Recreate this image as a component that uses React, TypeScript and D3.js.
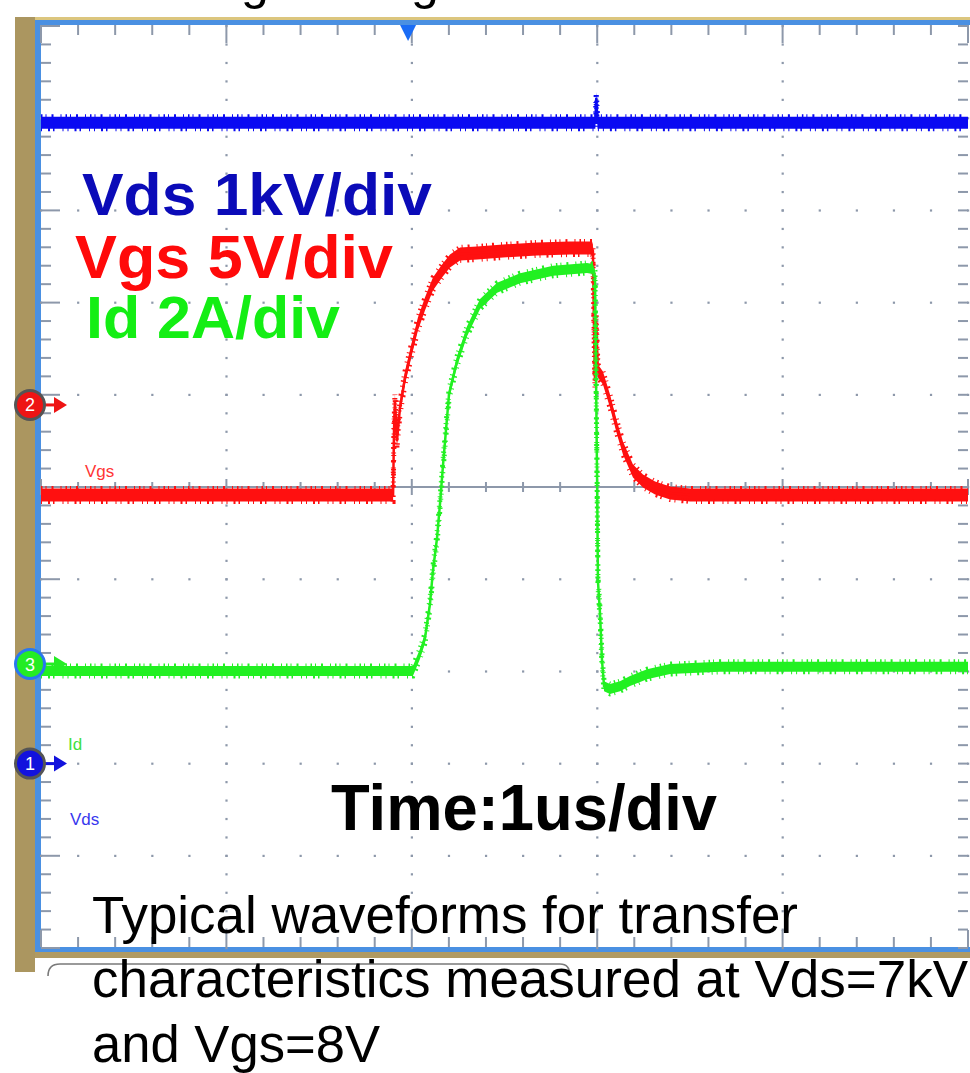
import * as d3 from "d3";

// scope screen: 5 time divisions across, 10 vertical divisions
const timeDomain = [0, 5]; // us, 1 us/div
const divDomain = [-5, 5];

// channel settings: zero position (div) and units per div
const vdsOffset = -3.0, vdsPerDiv = 1; // kV
const vgsOffset = 0.89, vgsPerDiv = 5; // V
const idOffset = -1.92, idPerDiv = 2; // A
const triggerTime = 1.98;

// traces: [time us, value]
const vdsTrace: [number, number][] = [
  [0, 6.95], [2.99, 6.95], [2.995, 7.22], [3.002, 6.95], [5, 6.95],
];

const vgsTrace: [number, number][] = [
  [0, -4.88], [1.899, -4.88], [1.904, -1.41], [1.909, 0.21], [1.92, -1.96],
  [1.936, -0.17], [1.963, 1.46], [2.001, 3.09], [2.033, 4.39], [2.071, 5.47],
  [2.114, 6.56], [2.163, 7.26], [2.206, 7.81], [2.26, 8.19], [2.352, 8.24],
  [2.492, 8.35], [2.675, 8.46], [2.853, 8.51], [2.972, 8.51], [2.977, 8.35],
  [2.983, 4.01], [2.988, 1.3], [2.994, 4.55], [3.004, 1.84], [3.031, 1.46],
  [3.069, 0.21], [3.107, -1.25], [3.139, -2.34], [3.193, -3.58], [3.247, -4.12],
  [3.312, -4.5], [3.393, -4.78], [3.501, -4.88], [5, -4.88],
];

const idTrace: [number, number][] = [
  [0, -0.15], [2.006, -0.15], [2.044, 0.22], [2.071, 0.56], [2.098, 1.3],
  [2.114, 2.02], [2.136, 2.73], [2.152, 3.47], [2.168, 4.3], [2.201, 5.86],
  [2.244, 6.57], [2.298, 7.22], [2.368, 7.81], [2.46, 8.16], [2.584, 8.37],
  [2.762, 8.53], [2.945, 8.59], [2.977, 8.57], [2.988, 8.42], [2.999, 4.19],
  [3.004, 1.8], [3.015, 1.11], [3.026, 0.07], [3.037, -0.48], [3.069, -0.54],
  [3.123, -0.48], [3.177, -0.37], [3.269, -0.22], [3.393, -0.11], [3.662, -0.06],
  [5, -0.06],
];

const scaleLabels = ["Vds 1kV/div", "Vgs 5V/div", "Id 2A/div"];
const timeLabel = "Time:1us/div";
const captionLines = [
  "Typical waveforms for transfer",
  "characteristics measured at Vds=7kV",
  "and Vgs=8V",
];

const FONT = "'Liberation Sans', Arial, Helvetica, sans-serif";
const GRID = "#8d98aa";

const x = d3.scaleLinear().domain(timeDomain).range([41, 968]);
const yDiv = d3.scaleLinear().domain(divDomain).range([948, 26]);

const chY = (offset: number, perDiv: number) => (v: number) => yDiv(offset + v / perDiv);
const yVds = chY(vdsOffset, vdsPerDiv);
const yVgs = chY(vgsOffset, vgsPerDiv);
const yId = chY(idOffset, idPerDiv);

function Trace({ data, y, color, band }: { data: [number, number][]; y: (v: number) => number; color: string; band: number }) {
  const area = d3.area<[number, number]>()
    .x(d => x(d[0]))
    .y0(d => y(d[1]) - band)
    .y1(d => y(d[1]) + band);
  const line = d3.line<[number, number]>().x(d => x(d[0])).y(d => y(d[1]));
  const upper = d3.line<[number, number]>().x(d => x(d[0])).y(d => y(d[1]) - band);
  const lower = d3.line<[number, number]>().x(d => x(d[0])).y(d => y(d[1]) + band);
  return (
    <g>
      <path d={area(data) || ""} fill={color} />
      {/* ragged noise edge */}
      <path d={upper(data) || ""} fill="none" stroke={color} strokeWidth={5} strokeDasharray="1.5 3 1 5 2 7 1 4" />
      <path d={lower(data) || ""} fill="none" stroke={color} strokeWidth={5} strokeDasharray="1 6 2 3 1.5 8 1 4" />
      <path d={line(data) || ""} fill="none" stroke={color} strokeWidth={2.5} />
    </g>
  );
}

function Marker({ cy, num, fill, ring }: { cy: number; num: string; fill: string; ring: string }) {
  return (
    <g>
      <line x1={42} x2={58} y1={cy} y2={cy} stroke={fill} strokeWidth={3} />
      <path d={`M54,${cy - 8}L67,${cy}L54,${cy + 8}Z`} fill={fill} />
      <circle cx={30} cy={cy} r={14.5} fill={fill} stroke={ring} strokeWidth={3} />
      <text x={30} y={cy + 6.5} textAnchor="middle" fontFamily={FONT} fontSize={18} fill="#fff">{num}</text>
    </g>
  );
}

export default function App() {
  const minorT = d3.range(0, 5.0001, 0.2);
  const minorD = d3.range(-5, 5.0001, 0.2);
  const majorT = d3.range(1, 5, 1);
  const majorD = d3.range(-4, 5, 1);
  const isMajor = (v: number) => Math.abs(v - Math.round(v)) < 1e-6;

  const dots: JSX.Element[] = [];
  majorT.forEach(t => minorD.forEach(d => dots.push(
    <rect key={`v${t}_${d}`} x={x(t) - 1} y={yDiv(d) - 1} width={2.2} height={2.2} fill={GRID} />
  )));
  majorD.forEach(d => minorT.forEach(t => dots.push(
    <rect key={`h${t}_${d}`} x={x(t) - 1} y={yDiv(d) - 1} width={2.2} height={2.2} fill={GRID} />
  )));

  return (
    <svg width={970} height={1073} style={{ position: "absolute", left: 0, top: 0, background: "#fff", display: "block" }}>
      {/* cropped title line above */}
      <text x={241} y={-1} fontFamily={FONT} fontSize={50}>g</text>
      <text x={411} y={-1} fontFamily={FONT} fontSize={50}>g</text>

      {/* frame */}
      <rect x={15} y={17} width={20} height={955} fill="#ab9660" />
      <rect x={35} y={17} width={935} height={3} fill="#dcc67e" />
      <rect x={35} y={952} width={935} height={6} fill="#b09a62" />
      <rect x={35} y={20} width={935} height={5} fill="#4a90e2" />
      <rect x={35} y={947} width={935} height={5} fill="#4a90e2" />
      <rect x={35} y={20} width={6} height={932} fill="#4a90e2" />
      <path d="M48,976Q48,964 60,964H560Q570,964 570,976" fill="none" stroke="#7a7a7a" strokeWidth={1.6} />

      {/* grid */}
      {dots}
      <line x1={41} x2={968} y1={yDiv(0)} y2={yDiv(0)} stroke={GRID} strokeWidth={2} />
      {minorT.map(t => (
        <g key={`t${t}`}>
          <line x1={x(t)} x2={x(t)} y1={yDiv(0) - (isMajor(t) ? 8 : 5)} y2={yDiv(0) + (isMajor(t) ? 8 : 5)} stroke={GRID} strokeWidth={2} />
          <line x1={x(t)} x2={x(t)} y1={25} y2={isMajor(t) ? 43 : 35} stroke={GRID} strokeWidth={2} />
          <line x1={x(t)} x2={x(t)} y1={947} y2={isMajor(t) ? 930 : 937} stroke={GRID} strokeWidth={2} />
        </g>
      ))}
      {minorD.map(d => (
        <g key={`d${d}`}>
          <line x1={41} x2={isMajor(d) ? 60 : 51} y1={yDiv(d)} y2={yDiv(d)} stroke={GRID} strokeWidth={2} />
          <line x1={968} x2={958} y1={yDiv(d)} y2={yDiv(d)} stroke={GRID} strokeWidth={2} />
        </g>
      ))}

      {/* traces */}
      <Trace data={vdsTrace} y={yVds} color="#0a0af2" band={6} />
      <Trace data={vgsTrace} y={yVgs} color="#ff1010" band={6.5} />
      <Trace data={idTrace} y={yId} color="#22f022" band={5} />

      {/* channel labels and markers */}
      <text x={85} y={477} fontFamily={FONT} fontSize={17} fill="#ff3535">Vgs</text>
      <text x={68} y={750} fontFamily={FONT} fontSize={17} fill="#3ee03e">Id</text>
      <text x={70} y={825} fontFamily={FONT} fontSize={17} fill="#3838ee">Vds</text>
      <Marker cy={yDiv(vgsOffset)} num="2" fill="#ee1414" ring="#555" />
      <Marker cy={yDiv(idOffset)} num="3" fill="#24ec24" ring="#2a78ee" />
      <Marker cy={yDiv(vdsOffset)} num="1" fill="#1212dd" ring="#555" />
      <path d={`M${x(triggerTime) - 8},25L${x(triggerTime) + 8},25L${x(triggerTime)},41Z`} fill="#1a6cf5" />

      {/* scale annotations */}
      <text x={82} y={215} fontFamily={FONT} fontWeight="bold" fontSize={59} fill="#0b0bb8" textLength={350} lengthAdjust="spacingAndGlyphs">{scaleLabels[0]}</text>
      <text x={75} y={278} fontFamily={FONT} fontWeight="bold" fontSize={61} fill="#ff0a0a" textLength={318} lengthAdjust="spacingAndGlyphs">{scaleLabels[1]}</text>
      <text x={86} y={338} fontFamily={FONT} fontWeight="bold" fontSize={60} fill="#14ee14" textLength={254} lengthAdjust="spacingAndGlyphs">{scaleLabels[2]}</text>
      <text x={331} y={830} fontFamily={FONT} fontWeight="bold" fontSize={65} fill="#000" textLength={386} lengthAdjust="spacingAndGlyphs">{timeLabel}</text>

      {/* caption */}
      <text x={92} y={933} fontFamily={FONT} fontSize={51} fill="#000" textLength={706} lengthAdjust="spacingAndGlyphs">{captionLines[0]}</text>
      <text x={92} y={997} fontFamily={FONT} fontSize={51} fill="#000" textLength={876} lengthAdjust="spacingAndGlyphs">{captionLines[1]}</text>
      <text x={92} y={1062} fontFamily={FONT} fontSize={51} fill="#000" textLength={288} lengthAdjust="spacingAndGlyphs">{captionLines[2]}</text>
    </svg>
  );
}
